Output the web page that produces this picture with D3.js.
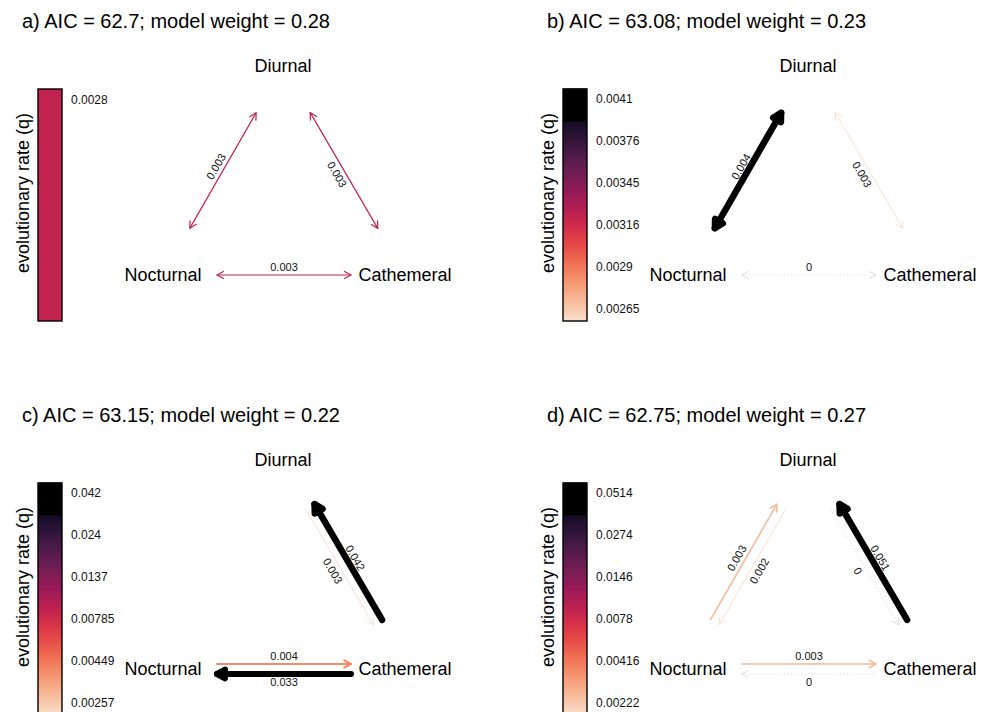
<!DOCTYPE html>
<html>
<head>
<meta charset="utf-8">
<script src="https://cdn.jsdelivr.net/npm/d3@7"></script>
<style>
  body { margin: 0; background: #fff; }
  svg { display: block; font-family: "Liberation Sans", Arial, sans-serif; }
</style>
</head>
<body>
<svg id="chart" width="987" height="712"></svg>
<script>
'use strict';

// ---- data ----
const titles = [
  'a) AIC = 62.7; model weight = 0.28',
  'b) AIC = 63.08; model weight = 0.23',
  'c) AIC = 63.15; model weight = 0.22',
  'd) AIC = 62.75; model weight = 0.27',
];

const ticksA = ['0.0028'];
const ticksB = ['0.0041', '0.00376', '0.00345', '0.00316', '0.0029', '0.00265'];
const ticksC = ['0.042', '0.024', '0.0137', '0.00785', '0.00449', '0.00257'];
const ticksD = ['0.0514', '0.0274', '0.0146', '0.0078', '0.00416', '0.00222'];

// both = one line with heads at each end (symmetric rate)
const ratesA = [
  { from: 'Nocturnal', to: 'Diurnal', rate: 0.0028, both: true },
  { from: 'Diurnal', to: 'Cathemeral', rate: 0.0028, both: true },
  { from: 'Nocturnal', to: 'Cathemeral', rate: 0.0028, both: true },
];
const ratesB = [
  { from: 'Nocturnal', to: 'Diurnal', rate: 0.0041, both: true },
  { from: 'Diurnal', to: 'Cathemeral', rate: 0.00265, both: true },
  { from: 'Nocturnal', to: 'Cathemeral', rate: 0, both: true },
];
const ratesC = [
  { from: 'Cathemeral', to: 'Diurnal', rate: 0.042 },
  { from: 'Diurnal', to: 'Cathemeral', rate: 0.00257 },
  { from: 'Nocturnal', to: 'Cathemeral', rate: 0.0044 },
  { from: 'Cathemeral', to: 'Nocturnal', rate: 0.033 },
];
const ratesD = [
  { from: 'Nocturnal', to: 'Diurnal', rate: 0.003 },
  { from: 'Diurnal', to: 'Nocturnal', rate: 0.00222 },
  { from: 'Cathemeral', to: 'Diurnal', rate: 0.0514 },
  { from: 'Diurnal', to: 'Cathemeral', rate: 0 },
  { from: 'Nocturnal', to: 'Cathemeral', rate: 0.003 },
  { from: 'Cathemeral', to: 'Nocturnal', rate: 0 },
];

const panels = [
  { title: titles[0], ticks: ticksA, rates: ratesA, ox: 0, oy: 0 },
  { title: titles[1], ticks: ticksB, rates: ratesB, ox: 525, oy: 0 },
  { title: titles[2], ticks: ticksC, rates: ratesC, ox: 0, oy: 394 },
  { title: titles[3], ticks: ticksD, rates: ratesD, ox: 525, oy: 394 },
];

// ---- layout ----
const nodePos = {
  Diurnal: [283, 66],
  Nocturnal: [163, 275],
  Cathemeral: [405, 275],
};
const shorten = 54;
const pairGap = 5;
const labelGap = 8;
const bar = { x: 38, y: 89, w: 24, h: 232 };
const blackFrom = 0.862;

// rocket palette, dark -> light
const rocket = d3.interpolateRgbBasis([
  '#03051a', '#35193e', '#701f57', '#ad1759', '#e13342', '#f37651', '#f6b48f', '#faebdd'
]);

function rateColour(t) {
  if (t >= blackFrom) return '#000';
  return rocket(Math.max(0, Math.min(1, 0.97 - t * 1.07)));
}

const svg = d3.select('#chart');

function drawPanel(p) {
  const g = svg.append('g').attr('transform', `translate(${p.ox},${p.oy})`);

  g.append('text')
    .attr('x', 22).attr('y', 28)
    .attr('font-size', 20)
    .text(p.title);

  const nonzero = p.rates.filter(d => d.rate > 0).map(d => d.rate);
  const [lo, hi] = d3.extent(nonzero);
  const single = lo === hi;
  const tScale = d3.scaleLog().domain(single ? [lo, lo * 1.0001] : [lo, hi]).range([0, 1]).clamp(true);
  const colourT = r => single ? 0.45 : tScale(r);
  const widthT = r => single ? 0.04 : tScale(r);

  // colour bar
  const barG = g.append('g');
  if (single) {
    barG.append('rect')
      .attr('x', bar.x).attr('y', bar.y).attr('width', bar.w).attr('height', bar.h)
      .attr('fill', rateColour(0.45));
  } else {
    const yBar = d3.scaleLinear().domain([0, 1]).range([bar.y + bar.h, bar.y]);
    const steps = d3.range(0, 1, 1 / 116);
    barG.selectAll('rect.step')
      .data(steps)
      .join('rect')
      .attr('class', 'step')
      .attr('x', bar.x)
      .attr('y', d => yBar(d + 1 / 116) - 0.5)
      .attr('width', bar.w)
      .attr('height', bar.h / 116 + 1)
      .attr('fill', d => rateColour(d + 0.5 / 116));
  }
  barG.append('rect')
    .attr('x', bar.x).attr('y', bar.y).attr('width', bar.w).attr('height', bar.h)
    .attr('fill', 'none').attr('stroke', '#000').attr('stroke-width', 1.4);

  const yTick = d3.scalePoint().domain(p.ticks).range([99, 309]);
  g.selectAll('text.tick')
    .data(p.ticks)
    .join('text')
    .attr('class', 'tick')
    .attr('x', 71)
    .attr('y', d => p.ticks.length === 1 ? 104 : yTick(d) + 4)
    .attr('font-size', 12)
    .attr('fill', '#111')
    .text(d => d);

  g.append('text')
    .attr('transform', 'translate(29,193) rotate(-90)')
    .attr('text-anchor', 'middle')
    .attr('font-size', 18)
    .text('evolutionary rate (q)');

  // state labels
  g.selectAll('text.state')
    .data(Object.keys(nodePos))
    .join('text')
    .attr('class', 'state')
    .attr('x', d => nodePos[d][0])
    .attr('y', d => nodePos[d][1] + 6)
    .attr('text-anchor', 'middle')
    .attr('font-size', 18)
    .text(d => d);

  // edges
  p.rates.forEach(e => {
    const a = nodePos[e.from];
    const b = nodePos[e.to];
    const len = Math.hypot(b[0] - a[0], b[1] - a[1]);
    const ux = (b[0] - a[0]) / len;
    const uy = (b[1] - a[1]) / len;
    // side: follow the vertical direction of travel, rightward edges go above
    let nx = -uy, ny = ux;
    if (Math.abs(uy) > 0.01) {
      if (Math.sign(ny) !== Math.sign(uy)) { nx = -nx; ny = -ny; }
    } else if ((ux > 0 && ny > 0) || (ux < 0 && ny < 0)) {
      nx = -nx; ny = -ny;
    }
    const off = e.both ? 0 : pairGap;
    const x1 = a[0] + ux * shorten + nx * off;
    const y1 = a[1] + uy * shorten + ny * off;
    const x2 = b[0] - ux * shorten + nx * off;
    const y2 = b[1] - uy * shorten + ny * off;

    const zero = e.rate === 0;
    const colour = zero ? '#d2d2d2' : rateColour(colourT(e.rate));
    const w = zero ? 1 : 1 + 5.5 * widthT(e.rate);

    const line = g.append('line')
      .attr('x1', x1).attr('y1', y1).attr('x2', x2).attr('y2', y2)
      .attr('stroke', colour)
      .attr('stroke-width', w);
    if (zero) {
      line.attr('stroke-dasharray', '1,2.5');
    } else {
      line.attr('stroke-linecap', 'round');
    }

    const headLen = 7 + w * 0.35;
    const head = (tx, ty, dx, dy) => {
      const ang = Math.atan2(dy, dx);
      const a1 = ang + Math.PI - 0.5;
      const a2 = ang + Math.PI + 0.5;
      const path = d3.path();
      path.moveTo(tx + Math.cos(a1) * headLen, ty + Math.sin(a1) * headLen);
      path.lineTo(tx, ty);
      path.lineTo(tx + Math.cos(a2) * headLen, ty + Math.sin(a2) * headLen);
      if (w > 3) path.closePath();
      g.append('path')
        .attr('d', path.toString())
        .attr('fill', w > 3 ? colour : 'none')
        .attr('stroke', colour)
        .attr('stroke-width', zero ? 0.8 : w)
        .attr('stroke-linecap', 'round')
        .attr('stroke-linejoin', 'round');
    };
    head(x2, y2, ux, uy);
    if (e.both) head(x1, y1, -ux, -uy);

    let angle = Math.atan2(uy, ux) * 180 / Math.PI;
    if (angle > 90) angle -= 180;
    if (angle <= -90) angle += 180;
    const lx = (x1 + x2) / 2 + nx * labelGap;
    const ly = (y1 + y2) / 2 + ny * labelGap;
    g.append('text')
      .attr('transform', `translate(${lx},${ly}) rotate(${angle})`)
      .attr('text-anchor', 'middle')
      .attr('dy', '0.35em')
      .attr('font-size', 11)
      .attr('fill', '#111')
      .text((+e.rate.toFixed(3)).toString());
  });
}

panels.forEach(drawPanel);
</script>
</body>
</html>
